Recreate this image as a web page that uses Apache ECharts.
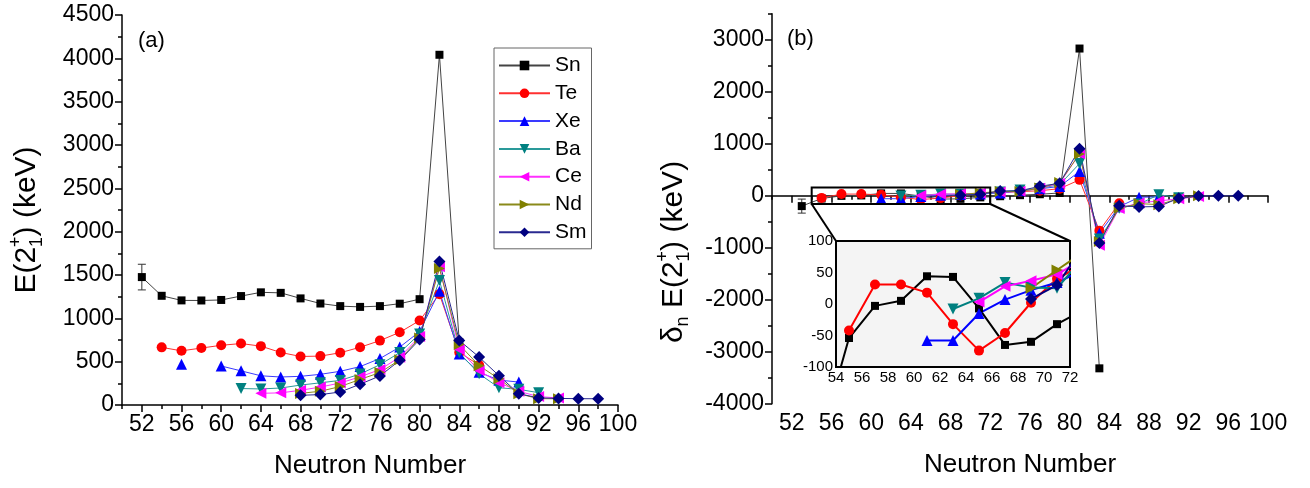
<!DOCTYPE html>
<html>
<head>
<meta charset="utf-8">
<script src="https://cdn.jsdelivr.net/npm/echarts@6/dist/echarts.min.js"></script>
<style>
html, body { margin: 0; padding: 0; background: #fff; }
#chart { width: 1310px; height: 488px; }
</style>
</head>
<body>
<div id="chart"></div>
<script>
// neutron numbers
const nEven = [52, 54, 56, 58, 60, 62, 64, 66, 68, 70, 72, 74, 76, 78, 80, 82, 84, 86, 88, 90, 92, 94, 96, 98];
const nOdd = [53, 55, 57, 59, 61, 63, 65, 67, 69, 71, 73, 75, 77, 79, 81, 83, 85, 87, 89, 91, 93, 95, 97];

// (a) E(2+) in keV, aligned with nEven
const eSn = [1476, 1260, 1207, 1206, 1212, 1257, 1300, 1294, 1230, 1171, 1141, 1132, 1141, 1169, 1221, 4041, 726, null, null, null, null, null, null, null];
const eTe = [null, 665, 625, 657, 689, 709, 679, 606, 560, 564, 603, 666, 743, 839, 974, 1279, 607, 461, null, null, null, null, null, null];
const eXe = [null, null, 470, null, 450, 394, 337, 323, 331, 354, 389, 443, 536, 668, 847, 1313, 589, 377, 287, 265, null, null, null, null];
const eBa = [null, null, null, null, null, 190, 185, 196, 230, 256, 284, 357, 465, 605, 819, 1436, 602, 360, 199, 181, 142, null, null, null];
const eCe = [null, null, null, null, null, null, 135, 140, 170, 207, 254, 325, 409, 552, 789, 1596, 641, 397, 258, 158, 97, 81, null, null];
const eNd = [null, null, null, null, null, null, null, null, 134, 159, 213, 295, 374, 521, 774, 1576, 697, 454, 302, 130, 73, 72, null, null];
const eSm = [null, null, null, null, null, null, null, null, 112, 120, 150, 240, 335, 515, 755, 1657, 745, 553, 338, 130, 82, 76, 73, 72];

// (b) delta_n E(2+) in keV, aligned with nOdd
const dSn = [-200, -54, -3, 5, 44, 43, -7, -65, -60, -32, -10, 10, 28, 52, 2830, -3320, null, null, null, null, null, null, null];
const dTe = [null, -42, 31, 31, 18, -32, -74, -46, 2, 40, 63, 77, 96, 135, 305, -672, -146, null, null, null, null, null, null];
const dXe = [null, null, null, null, -58, -58, -15, 7, 22, 34, 54, 93, 132, 179, 466, -724, -212, -30, -22, null, null, null, null];
const dBa = [null, null, null, null, null, -8, 9, 34, 26, 25, 73, 108, 140, 214, 617, -834, -242, -161, 20, -39, null, null, null];
const dCe = [null, null, null, null, null, null, 3, 28, 37, 47, 71, 84, 143, 237, 807, -955, -244, -139, -100, -61, -16, null, null];
const dNd = [null, null, null, null, null, null, null, null, 25, 54, 82, 79, 147, 253, 802, -879, -243, -152, -172, -57, -1, null, null];
const dSm = [null, null, null, null, null, null, null, null, 8, 30, 90, 95, 180, 240, 902, -912, -192, -215, -208, -48, -6, -3, -1];

// error bars [N, low, high]
const errLeft = [[52, 1328, 1624]];
const errRight = [[53, -335, -65]];
const errInsetBa = [[63, -8, 10]];
const errInsetSm = [[71, 13, 47]];

// tick labels
const xMajor = [52, 56, 60, 64, 68, 72, 76, 80, 84, 88, 92, 96, 100];
const xMinor = [50, 54, 58, 62, 66, 70, 74, 78, 82, 86, 90, 94, 98];
const yRightMajor = [-4000, -3000, -2000, -1000, 0, 1000, 2000, 3000];
const yRightMinor = [-3500, -2500, -1500, -500, 500, 1500, 2500, 3500];

// inset range
const insetX = [54, 72];
const insetY = [-100, 100];
const zoomBoxY = [-160, 160];

const FONT = '"Liberation Sans", Arial, sans-serif';

const triDown = 'path://M0,0L12,0L6,10.4Z';
const triLeft = 'path://M10.4,0L10.4,12L0,6Z';
const triRight = 'path://M0,0L10.4,6L0,12Z';

const elements = [
  { name: 'Sn', color: '#000000', line: '#444444', symbol: 'rect', size: 8, e: eSn, d: dSn },
  { name: 'Te', color: '#ff0000', line: '#ff3030', symbol: 'circle', size: 10, e: eTe, d: dTe },
  { name: 'Xe', color: '#0000ff', line: '#3a3aff', symbol: 'triangle', size: 11, e: eXe, d: dXe },
  { name: 'Ba', color: '#008080', line: '#2a9a9a', symbol: triDown, size: 11, e: eBa, d: dBa },
  { name: 'Ce', color: '#ff00ff', line: '#ff30ff', symbol: triLeft, size: 11, e: eCe, d: dCe },
  { name: 'Nd', color: '#808000', line: '#8a8a1a', symbol: triRight, size: 11, e: eNd, d: dNd },
  { name: 'Sm', color: '#000080', line: '#2a2a90', symbol: 'diamond', size: 12, e: eSm, d: dSm }
];

function pairs(xs, ys) {
  return xs.map((x, i) => [x, ys[i]]);
}

function lineSeries(el, axis, data, width) {
  return {
    name: el.name,
    type: 'line',
    xAxisIndex: axis,
    yAxisIndex: axis,
    data: data,
    symbol: el.symbol,
    symbolSize: el.size,
    clip: true,
    silent: true,
    itemStyle: { color: el.color },
    lineStyle: { color: width > 1 ? el.color : el.line, width: width },
    emphasis: { disabled: true }
  };
}

function errSeries(axis, data, color) {
  return {
    type: 'custom',
    xAxisIndex: axis,
    yAxisIndex: axis,
    data: data,
    silent: true,
    clip: true,
    z: 1,
    encode: { x: 0, y: [1, 2] },
    renderItem(params, api) {
      const x = api.value(0);
      const lo = api.coord([x, api.value(1)]);
      const hi = api.coord([x, api.value(2)]);
      const c = 4;
      const st = { stroke: color, lineWidth: 1 };
      return {
        type: 'group',
        children: [
          { type: 'line', shape: { x1: lo[0], y1: lo[1], x2: hi[0], y2: hi[1] }, style: st },
          { type: 'line', shape: { x1: lo[0] - c, y1: lo[1], x2: lo[0] + c, y2: lo[1] }, style: st },
          { type: 'line', shape: { x1: hi[0] - c, y1: hi[1], x2: hi[0] + c, y2: hi[1] }, style: st }
        ]
      };
    }
  };
}

const series = [];
elements.forEach(el => series.push(lineSeries(el, 0, pairs(nEven, el.e), 1)));
elements.forEach(el => series.push(lineSeries(el, 1, pairs(nOdd, el.d), 1)));
elements.forEach(el => series.push(lineSeries(el, 2, pairs(nOdd, el.d), 2)));
series.push(errSeries(0, errLeft, '#333'));
series.push(errSeries(1, errRight, '#333'));
series.push(errSeries(2, errInsetBa, '#008080'));
series.push(errSeries(2, errInsetSm, '#000080'));

const axisLine = { lineStyle: { color: '#000', width: 1.5 } };
const tickStyle = { color: '#000', width: 1.5 };
const plain = v => String(v);
const labelStyle = { color: '#000', fontSize: 23, fontFamily: FONT, formatter: plain };

function mainX(grid) {
  return {
    gridIndex: grid, type: 'value', min: 50, max: 100, position: 'bottom',
    axisLine: axisLine,
    axisTick: { customValues: xMajor, length: 7, lineStyle: tickStyle },
    axisLabel: Object.assign({ customValues: xMajor, margin: 8 }, labelStyle),
    splitLine: { show: false },
    name: 'Neutron Number', nameLocation: 'middle', nameGap: 48,
    nameTextStyle: { color: '#000', fontSize: 26, fontFamily: FONT }
  };
}
function minorX(grid) {
  return {
    gridIndex: grid, type: 'value', min: 50, max: 100, position: 'bottom',
    axisLine: { show: false },
    axisTick: { customValues: xMinor, length: 4, lineStyle: tickStyle },
    axisLabel: { show: false },
    splitLine: { show: false }
  };
}

const option = {
  animation: false,
  backgroundColor: '#fff',
  textStyle: { fontFamily: FONT },
  grid: [
    { left: 122, top: 15, width: 496, height: 390 },
    { left: 772, top: 13.7, width: 496, height: 390 },
    { left: 836, top: 241, width: 234, height: 126, show: true, backgroundColor: '#f4f4f4', borderColor: '#000', borderWidth: 2, z: 3 }
  ],
  xAxis: [
    mainX(0),
    mainX(1),
    {
      gridIndex: 2, type: 'value', min: insetX[0], max: insetX[1], interval: 2, position: 'bottom',
      axisLine: { lineStyle: { color: '#000', width: 2 } },
      axisTick: { inside: true, length: 4, lineStyle: { color: '#000', width: 1 } },
      axisLabel: { color: '#000', fontSize: 15, fontFamily: FONT, margin: 3 },
      splitLine: { show: false }
    },
    minorX(0),
    minorX(1)
  ],
  yAxis: [
    {
      gridIndex: 0, type: 'value', min: 0, max: 4500, interval: 500, position: 'left',
      axisLine: Object.assign({ show: true }, axisLine),
      axisTick: { show: true, length: 7, lineStyle: tickStyle },
      minorTick: { show: true, splitNumber: 2, length: 4, lineStyle: tickStyle },
      axisLabel: Object.assign({ margin: 8 }, labelStyle),
      splitLine: { show: false }
    },
    {
      gridIndex: 1, type: 'value', min: -4000, max: 3500, position: 'left',
      axisLine: Object.assign({ show: true }, axisLine),
      axisTick: { show: true, customValues: yRightMajor, length: 7, lineStyle: tickStyle },
      axisLabel: Object.assign({ customValues: yRightMajor, margin: 8 }, labelStyle),
      splitLine: { show: false }
    },
    {
      gridIndex: 2, type: 'value', min: insetY[0], max: insetY[1], interval: 50, position: 'left',
      axisLine: { show: true, lineStyle: { color: '#000', width: 2 } },
      axisTick: { show: true, inside: true, length: 4, lineStyle: { color: '#000', width: 1 } },
      minorTick: { show: true, splitNumber: 2, length: 3, lineStyle: { color: '#000', width: 1 } },
      axisLabel: { color: '#000', fontSize: 15, fontFamily: FONT, margin: 3 },
      splitLine: { show: false }
    },
    {
      gridIndex: 1, type: 'value', min: -4000, max: 3500, position: 'left',
      axisLine: { show: false },
      axisTick: { show: true, customValues: yRightMinor, length: 4, lineStyle: tickStyle },
      axisLabel: { show: false },
      splitLine: { show: false }
    }
  ],
  legend: {
    data: elements.map(el => el.name),
    orient: 'vertical', left: 494, top: 48,
    padding: [7, 5, 6, 4],
    itemWidth: 51, itemHeight: 12, itemGap: 6.8,
    borderColor: '#666', borderWidth: 1,
    selectedMode: false,
    textStyle: { color: '#000', fontSize: 21, fontFamily: FONT }
  },
  series: series
};

const chart = echarts.init(document.getElementById('chart'));
chart.setOption(option);

// rotated axis titles with stacked sub/superscripts
const ctx = document.createElement('canvas').getContext('2d');
function textW(t, s) {
  ctx.font = s + 'px ' + FONT;
  return ctx.measureText(t).width;
}
function txt(t, x, y, s) {
  return {
    type: 'text', x: x, y: y,
    style: { text: t, fontSize: s, fontFamily: FONT, fill: '#000', textVerticalAlign: 'middle', verticalAlign: 'middle' }
  };
}
function titleGroup(cx, cy, tokens) {
  let w = 0;
  const placed = tokens.map(tk => {
    const ww = tk.stack ? Math.max(...tk.stack.map(t => textW(t, tk.size))) : textW(tk.text, tk.size);
    const item = { tk: tk, x: w };
    w += ww;
    return item;
  });
  const children = [];
  placed.forEach(p => {
    const x0 = p.x - w / 2;
    if (p.tk.stack) {
      children.push(txt(p.tk.stack[0], x0, p.tk.dy[0], p.tk.size));
      children.push(txt(p.tk.stack[1], x0, p.tk.dy[1], p.tk.size));
    } else {
      children.push(txt(p.tk.text, x0, p.tk.dy || 0, p.tk.size));
    }
  });
  return { type: 'group', x: cx, y: cy, rotation: Math.PI / 2, children: children };
}

const stack21 = { stack: ['1', '+'], size: 18, dy: [10, -11] };
const titleA = titleGroup(27, 220, [{ text: 'E(2', size: 30 }, stack21, { text: ') (keV)', size: 30 }]);
const titleB = titleGroup(674, 252, [{ text: 'δ', size: 30 }, { text: 'n', size: 18, dy: 9 }, { text: ' E(2', size: 30 }, stack21, { text: ') (keV)', size: 30 }]);

// zoom box in (b) and connectors to the inset
const pb = v => chart.convertToPixel({ gridIndex: 1 }, v);
const pi = v => chart.convertToPixel({ gridIndex: 2 }, v);
const bTL = pb([insetX[0], zoomBoxY[1]]);
const bBR = pb([insetX[1], zoomBoxY[0]]);
const iTL = pi([insetX[0], insetY[1]]);
const iTR = pi([insetX[1], insetY[1]]);
const boxStyle = { stroke: '#000', lineWidth: 2, fill: null };

chart.setOption({
  graphic: { elements: [
    titleA,
    titleB,
    { type: 'text', left: 138, top: 30, style: { text: '(a)', fontSize: 22, fontFamily: FONT, fill: '#000' } },
    { type: 'text', left: 787, top: 28, style: { text: '(b)', fontSize: 22, fontFamily: FONT, fill: '#000' } },
    { type: 'rect', z: 50, shape: { x: bTL[0], y: bTL[1], width: bBR[0] - bTL[0], height: bBR[1] - bTL[1] }, style: boxStyle },
    { type: 'line', z: 50, shape: { x1: bTL[0], y1: bBR[1], x2: iTL[0], y2: iTL[1] }, style: boxStyle },
    { type: 'line', z: 50, shape: { x1: bBR[0], y1: bBR[1], x2: iTR[0], y2: iTR[1] }, style: boxStyle }
  ] }
});
</script>
</body>
</html>
